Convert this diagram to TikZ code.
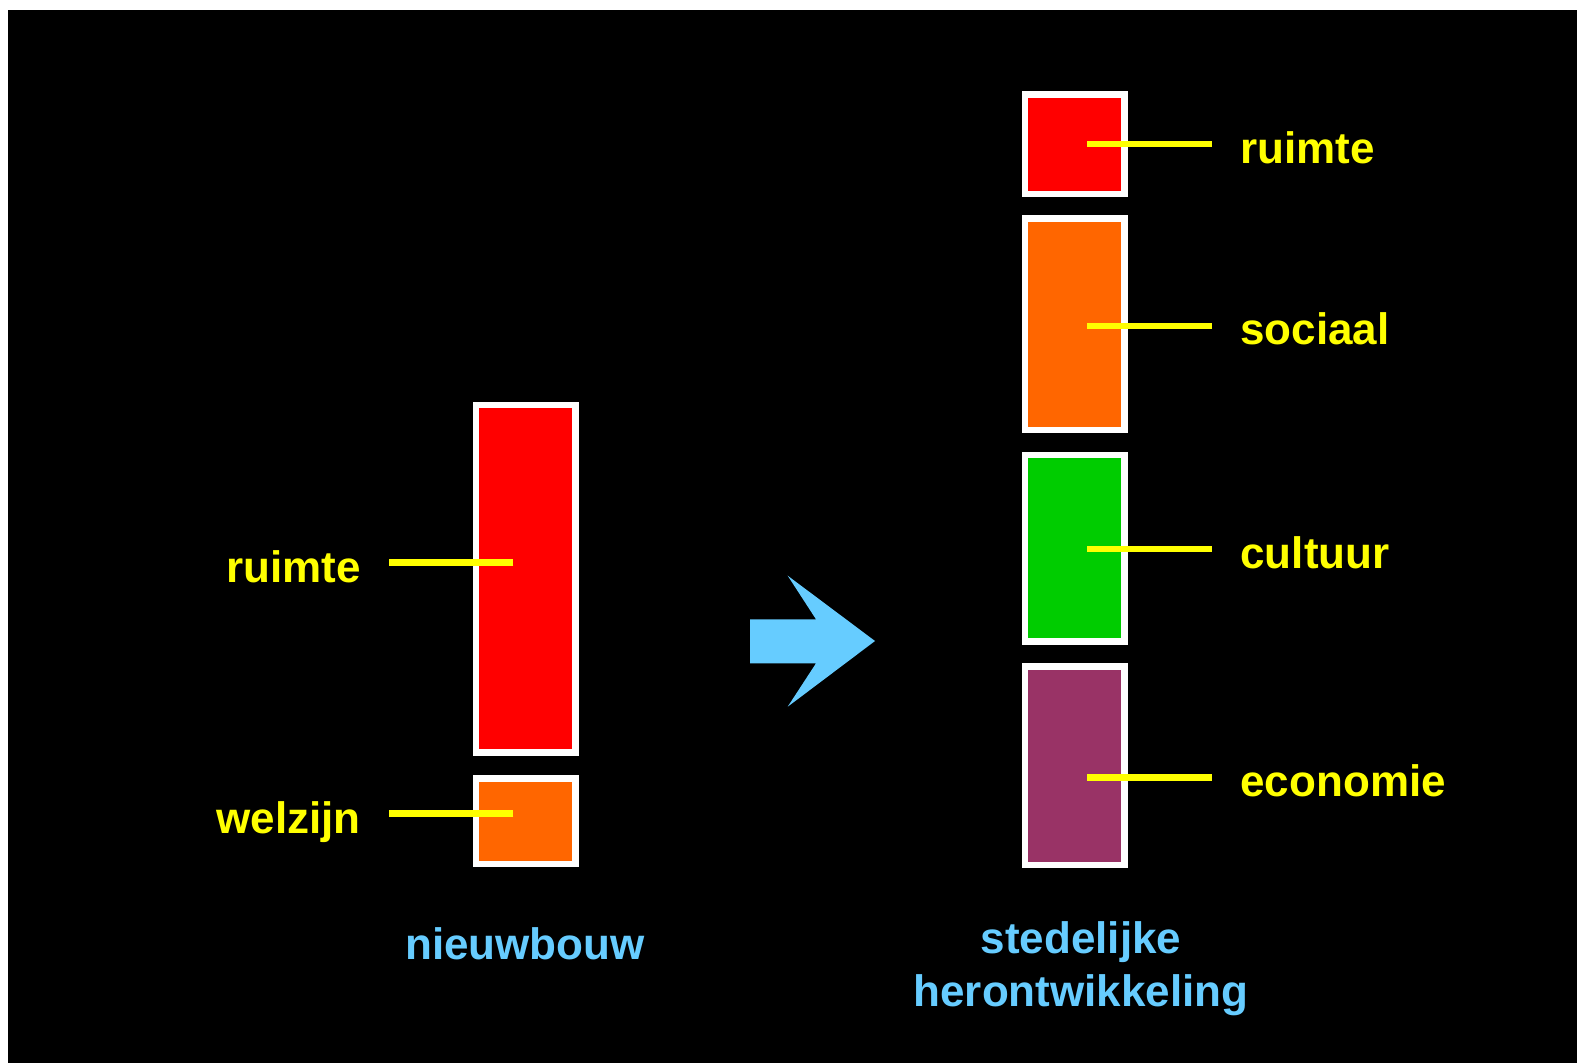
\documentclass[tikz,border=0pt]{standalone}
\usepackage{fontspec}
\setmainfont{Liberation Sans}
\definecolor{fieldred}{HTML}{FF0000}
\definecolor{fieldorange}{HTML}{FF6600}
\definecolor{fieldgreen}{HTML}{00CC00}
\definecolor{fieldpurple}{HTML}{993366}
\definecolor{leadyellow}{HTML}{FFFF00}
\definecolor{skyblue}{HTML}{66CCFF}
\tikzset{
  field/.style={draw=white, line width=3.25pt, rectangle, inner sep=0pt, outer sep=0pt,
    minimum width=49.75pt},
  leader/.style={draw=leadyellow, line width=3.15pt},
  lbl/.style={inner sep=0pt, text=leadyellow, font=\fontsize{22pt}{26pt}\selectfont\bfseries},
  caption/.style={inner sep=0pt, text=skyblue, align=center,
    font=\fontsize{22pt}{26.5pt}\selectfont\bfseries},
}
\begin{document}
\begin{tikzpicture}[x=0.5pt, y=-0.5pt]
  % page and dark slide area
  \fill[white] (0,0) rectangle (1577,1063);
  \fill[black] (8,10) rectangle (1577,1063);
  \useasboundingbox (0,0) rectangle (1577,1063);

  % left column: nieuwbouw
  \node[field, fill=fieldred,    minimum height=173.6pt] (l1) at (525.7,578.8) {};
  \node[field, fill=fieldorange, minimum height=42.75pt] (l2) at (525.7,821) {};

  \coordinate (la1) at (513.3,562.5); \coordinate (lb1) at (389,562.5);
  \coordinate (la2) at (513.3,813.5); \coordinate (lb2) at (389,813.5);
  \draw[leader] (la1) -- (lb1);
  \draw[leader] (la2) -- (lb2);
  \node[lbl, anchor=base east] (tl1) at (361,582) {ruimte};
  \node[lbl, anchor=base east] (tl2) at (361,833) {welzijn};

  \node[caption, anchor=base] (cap1) at (525,959) {nieuwbouw};

  % transition arrow
  \fill[skyblue] (750,619.3) -- (816,619.3) -- (787.7,575.7) -- (875,641)
    -- (787.7,706.7) -- (816,663.3) -- (750,663.3) -- cycle;

  % right column: stedelijke herontwikkeling
  \node[field, fill=fieldred,    minimum height=49.75pt]  (r1) at (1074.7,144.3) {};
  \node[field, fill=fieldorange, minimum height=105.75pt] (r2) at (1074.7,324.3) {};
  \node[field, fill=fieldgreen,  minimum height=93.25pt]  (r3) at (1074.7,548.2) {};
  \node[field, fill=fieldpurple, minimum height=99.4pt]   (r4) at (1074.7,765.7) {};

  \foreach \i/\y/\t in {1/144.2/ruimte, 2/325.8/sociaal, 3/549.1/cultuur, 4/777.4/economie}{
    \coordinate (ra\i) at (1087,\y);
    \coordinate (rb\i) at (1212,\y);
    \draw[leader] (ra\i) -- (rb\i);
    \node[lbl, anchor=base west] (tr\i) at (1240,\y+19) {\t};
  }

  \node[caption, anchor=base] (cap2a) at (1081,953) {stedelijke};
  \node[caption, anchor=base] (cap2b) at (1081,1006) {herontwikkeling};
\end{tikzpicture}
\end{document}
